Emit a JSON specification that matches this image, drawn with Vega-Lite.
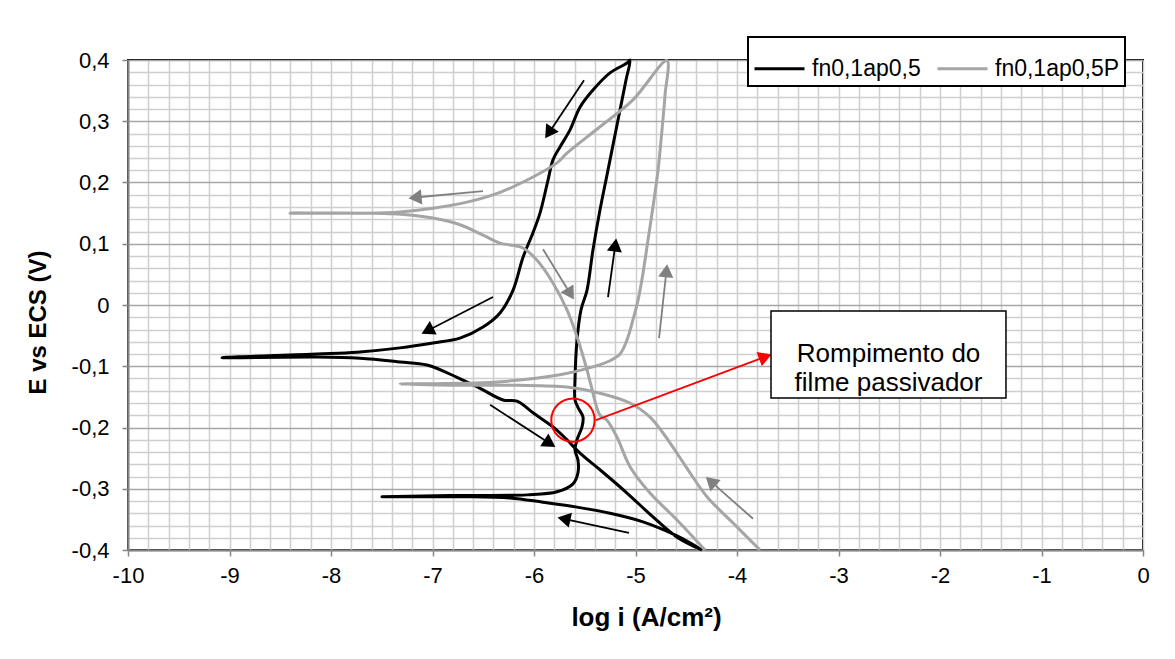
{
  "$schema": "https://vega.github.io/schema/vega-lite/v6.json",
  "width": 1015,
  "height": 490,
  "autosize": {"type": "none"},
  "padding": {"left": 128, "top": 60, "right": 32, "bottom": 109},
  "background": "white",
  "config": {
    "font": "Liberation Sans",
    "view": {"stroke": "black", "strokeWidth": 2},
    "legend": {"strokeWidth": 2}
  },
  "datasets": {
    "curves": [
      {"s":"fn0,1ap0,5","i":1,"x":-4.345,"y":-0.4},
      {"s":"fn0,1ap0,5","i":2,"x":-4.591,"y":-0.377},
      {"s":"fn0,1ap0,5","i":3,"x":-4.926,"y":-0.354},
      {"s":"fn0,1ap0,5","i":4,"x":-5.251,"y":-0.34},
      {"s":"fn0,1ap0,5","i":5,"x":-5.576,"y":-0.33},
      {"s":"fn0,1ap0,5","i":6,"x":-5.911,"y":-0.322},
      {"s":"fn0,1ap0,5","i":7,"x":-6.236,"y":-0.315},
      {"s":"fn0,1ap0,5","i":8,"x":-6.729,"y":-0.313},
      {"s":"fn0,1ap0,5","i":9,"x":-7.498,"y":-0.313},
      {"s":"fn0,1ap0,5","i":10,"x":-6.828,"y":-0.311},
      {"s":"fn0,1ap0,5","i":11,"x":-6.069,"y":-0.31},
      {"s":"fn0,1ap0,5","i":12,"x":-5.773,"y":-0.305},
      {"s":"fn0,1ap0,5","i":13,"x":-5.616,"y":-0.292},
      {"s":"fn0,1ap0,5","i":14,"x":-5.567,"y":-0.274},
      {"s":"fn0,1ap0,5","i":15,"x":-5.567,"y":-0.253},
      {"s":"fn0,1ap0,5","i":16,"x":-5.596,"y":-0.237},
      {"s":"fn0,1ap0,5","i":17,"x":-5.576,"y":-0.22},
      {"s":"fn0,1ap0,5","i":18,"x":-5.527,"y":-0.199},
      {"s":"fn0,1ap0,5","i":19,"x":-5.517,"y":-0.183},
      {"s":"fn0,1ap0,5","i":20,"x":-5.567,"y":-0.167},
      {"s":"fn0,1ap0,5","i":21,"x":-5.596,"y":-0.155},
      {"s":"fn0,1ap0,5","i":22,"x":-5.596,"y":-0.122},
      {"s":"fn0,1ap0,5","i":23,"x":-5.576,"y":-0.057},
      {"s":"fn0,1ap0,5","i":24,"x":-5.537,"y":-0.008},
      {"s":"fn0,1ap0,5","i":25,"x":-5.478,"y":0.024},
      {"s":"fn0,1ap0,5","i":26,"x":-5.419,"y":0.09},
      {"s":"fn0,1ap0,5","i":27,"x":-5.35,"y":0.155},
      {"s":"fn0,1ap0,5","i":28,"x":-5.281,"y":0.212},
      {"s":"fn0,1ap0,5","i":29,"x":-5.222,"y":0.261},
      {"s":"fn0,1ap0,5","i":30,"x":-5.153,"y":0.318},
      {"s":"fn0,1ap0,5","i":31,"x":-5.094,"y":0.367},
      {"s":"fn0,1ap0,5","i":32,"x":-5.054,"y":0.4},
      {"s":"fn0,1ap0,5","i":33,"x":-5.084,"y":0.395},
      {"s":"fn0,1ap0,5","i":34,"x":-5.251,"y":0.379},
      {"s":"fn0,1ap0,5","i":35,"x":-5.419,"y":0.351},
      {"s":"fn0,1ap0,5","i":36,"x":-5.547,"y":0.323},
      {"s":"fn0,1ap0,5","i":37,"x":-5.645,"y":0.286},
      {"s":"fn0,1ap0,5","i":38,"x":-5.744,"y":0.258},
      {"s":"fn0,1ap0,5","i":39,"x":-5.813,"y":0.237},
      {"s":"fn0,1ap0,5","i":40,"x":-5.862,"y":0.204},
      {"s":"fn0,1ap0,5","i":41,"x":-5.941,"y":0.15},
      {"s":"fn0,1ap0,5","i":42,"x":-6.01,"y":0.118},
      {"s":"fn0,1ap0,5","i":43,"x":-6.108,"y":0.078},
      {"s":"fn0,1ap0,5","i":44,"x":-6.207,"y":0.024},
      {"s":"fn0,1ap0,5","i":45,"x":-6.335,"y":-0.013},
      {"s":"fn0,1ap0,5","i":46,"x":-6.502,"y":-0.036},
      {"s":"fn0,1ap0,5","i":47,"x":-6.729,"y":-0.054},
      {"s":"fn0,1ap0,5","i":48,"x":-6.995,"y":-0.062},
      {"s":"fn0,1ap0,5","i":49,"x":-7.32,"y":-0.07},
      {"s":"fn0,1ap0,5","i":50,"x":-7.744,"y":-0.077},
      {"s":"fn0,1ap0,5","i":51,"x":-8.138,"y":-0.08},
      {"s":"fn0,1ap0,5","i":52,"x":-9.074,"y":-0.086},
      {"s":"fn0,1ap0,5","i":53,"x":-8.138,"y":-0.085},
      {"s":"fn0,1ap0,5","i":54,"x":-7.714,"y":-0.087},
      {"s":"fn0,1ap0,5","i":55,"x":-7.32,"y":-0.093},
      {"s":"fn0,1ap0,5","i":56,"x":-7.054,"y":-0.098},
      {"s":"fn0,1ap0,5","i":57,"x":-6.759,"y":-0.118},
      {"s":"fn0,1ap0,5","i":58,"x":-6.532,"y":-0.136},
      {"s":"fn0,1ap0,5","i":59,"x":-6.305,"y":-0.155},
      {"s":"fn0,1ap0,5","i":60,"x":-6.167,"y":-0.157},
      {"s":"fn0,1ap0,5","i":61,"x":-6.01,"y":-0.176},
      {"s":"fn0,1ap0,5","i":62,"x":-5.813,"y":-0.199},
      {"s":"fn0,1ap0,5","i":63,"x":-5.675,"y":-0.22},
      {"s":"fn0,1ap0,5","i":64,"x":-5.547,"y":-0.242},
      {"s":"fn0,1ap0,5","i":65,"x":-5.35,"y":-0.269},
      {"s":"fn0,1ap0,5","i":66,"x":-5.084,"y":-0.307},
      {"s":"fn0,1ap0,5","i":67,"x":-4.828,"y":-0.346},
      {"s":"fn0,1ap0,5","i":68,"x":-4.591,"y":-0.379},
      {"s":"fn0,1ap0,5","i":69,"x":-4.345,"y":-0.4},
      {"s":"fn0,1ap0,5P","i":1,"x":-3.773,"y":-0.4},
      {"s":"fn0,1ap0,5P","i":2,"x":-4.039,"y":-0.356},
      {"s":"fn0,1ap0,5P","i":3,"x":-4.296,"y":-0.313},
      {"s":"fn0,1ap0,5P","i":4,"x":-4.463,"y":-0.274},
      {"s":"fn0,1ap0,5P","i":5,"x":-4.591,"y":-0.242},
      {"s":"fn0,1ap0,5P","i":6,"x":-4.729,"y":-0.209},
      {"s":"fn0,1ap0,5P","i":7,"x":-4.857,"y":-0.183},
      {"s":"fn0,1ap0,5P","i":8,"x":-5.054,"y":-0.16},
      {"s":"fn0,1ap0,5P","i":9,"x":-5.35,"y":-0.144},
      {"s":"fn0,1ap0,5P","i":10,"x":-5.675,"y":-0.134},
      {"s":"fn0,1ap0,5P","i":11,"x":-6.167,"y":-0.131},
      {"s":"fn0,1ap0,5P","i":12,"x":-6.828,"y":-0.131},
      {"s":"fn0,1ap0,5P","i":13,"x":-7.32,"y":-0.129},
      {"s":"fn0,1ap0,5P","i":14,"x":-6.404,"y":-0.126},
      {"s":"fn0,1ap0,5P","i":15,"x":-5.744,"y":-0.114},
      {"s":"fn0,1ap0,5P","i":16,"x":-5.419,"y":-0.101},
      {"s":"fn0,1ap0,5P","i":17,"x":-5.251,"y":-0.091},
      {"s":"fn0,1ap0,5P","i":18,"x":-5.153,"y":-0.08},
      {"s":"fn0,1ap0,5P","i":19,"x":-5.084,"y":-0.057},
      {"s":"fn0,1ap0,5P","i":20,"x":-5.025,"y":-0.024},
      {"s":"fn0,1ap0,5P","i":21,"x":-4.975,"y":0.008},
      {"s":"fn0,1ap0,5P","i":22,"x":-4.926,"y":0.052},
      {"s":"fn0,1ap0,5P","i":23,"x":-4.877,"y":0.106},
      {"s":"fn0,1ap0,5P","i":24,"x":-4.828,"y":0.16},
      {"s":"fn0,1ap0,5P","i":25,"x":-4.778,"y":0.22},
      {"s":"fn0,1ap0,5P","i":26,"x":-4.739,"y":0.286},
      {"s":"fn0,1ap0,5P","i":27,"x":-4.709,"y":0.343},
      {"s":"fn0,1ap0,5P","i":28,"x":-4.69,"y":0.399},
      {"s":"fn0,1ap0,5P","i":29,"x":-5.025,"y":0.335},
      {"s":"fn0,1ap0,5P","i":30,"x":-5.35,"y":0.291},
      {"s":"fn0,1ap0,5P","i":31,"x":-5.675,"y":0.248},
      {"s":"fn0,1ap0,5P","i":32,"x":-5.773,"y":0.232},
      {"s":"fn0,1ap0,5P","i":33,"x":-6.01,"y":0.209},
      {"s":"fn0,1ap0,5P","i":34,"x":-6.335,"y":0.184},
      {"s":"fn0,1ap0,5P","i":35,"x":-6.66,"y":0.168},
      {"s":"fn0,1ap0,5P","i":36,"x":-6.995,"y":0.158},
      {"s":"fn0,1ap0,5P","i":37,"x":-7.32,"y":0.152},
      {"s":"fn0,1ap0,5P","i":38,"x":-7.645,"y":0.15},
      {"s":"fn0,1ap0,5P","i":39,"x":-8.404,"y":0.15},
      {"s":"fn0,1ap0,5P","i":40,"x":-7.389,"y":0.149},
      {"s":"fn0,1ap0,5P","i":41,"x":-6.995,"y":0.142},
      {"s":"fn0,1ap0,5P","i":42,"x":-6.729,"y":0.131},
      {"s":"fn0,1ap0,5P","i":43,"x":-6.502,"y":0.114},
      {"s":"fn0,1ap0,5P","i":44,"x":-6.335,"y":0.101},
      {"s":"fn0,1ap0,5P","i":45,"x":-6.236,"y":0.098},
      {"s":"fn0,1ap0,5P","i":46,"x":-6.108,"y":0.093},
      {"s":"fn0,1ap0,5P","i":47,"x":-5.97,"y":0.073},
      {"s":"fn0,1ap0,5P","i":48,"x":-5.813,"y":0.036},
      {"s":"fn0,1ap0,5P","i":49,"x":-5.675,"y":-0.008},
      {"s":"fn0,1ap0,5P","i":50,"x":-5.576,"y":-0.052},
      {"s":"fn0,1ap0,5P","i":51,"x":-5.478,"y":-0.106},
      {"s":"fn0,1ap0,5P","i":52,"x":-5.438,"y":-0.131},
      {"s":"fn0,1ap0,5P","i":53,"x":-5.35,"y":-0.18},
      {"s":"fn0,1ap0,5P","i":54,"x":-5.281,"y":-0.188},
      {"s":"fn0,1ap0,5P","i":55,"x":-5.182,"y":-0.216},
      {"s":"fn0,1ap0,5P","i":56,"x":-5.054,"y":-0.264},
      {"s":"fn0,1ap0,5P","i":57,"x":-4.857,"y":-0.307},
      {"s":"fn0,1ap0,5P","i":58,"x":-4.591,"y":-0.351},
      {"s":"fn0,1ap0,5P","i":59,"x":-4.315,"y":-0.4}
    ],
    "arrows": [
      {"c":"k","x":-5.507,"y":0.367,"x2":-5.854,"y2":0.281,"a":213.7},
      {"c":"g","x":-6.502,"y":0.186,"x2":-7.172,"y2":0.1755,"a":264.5},
      {"c":"g","x":-5.911,"y":0.091,"x2":-5.641,"y2":0.018,"a":148.5},
      {"c":"k","x":-5.271,"y":0.013,"x2":-5.199,"y2":0.098,"a":8.0},
      {"c":"g","x":-4.768,"y":-0.054,"x2":-4.695,"y2":0.056,"a":6.3},
      {"c":"k","x":-6.404,"y":0.013,"x2":-7.05,"y2":-0.042,"a":242.8},
      {"c":"k","x":-6.433,"y":-0.163,"x2":-5.844,"y2":-0.226,"a":122.6},
      {"c":"k","x":-5.064,"y":-0.372,"x2":-5.705,"y2":-0.349,"a":282.1},
      {"c":"g","x":-3.842,"y":-0.349,"x2":-4.259,"y2":-0.288,"a":311.7},
      {"c":"r","x":-5.389,"y":-0.188,"x2":-3.721,"y2":-0.0844,"a":69.5}
    ],
    "circle": [{"x":-5.616,"y":-0.188}],
    "box": [{"x":-3.665,"x2":-1.35,"y":-0.0098,"y2":-0.152}],
    "note": [{"x":-2.507,"y":-0.0808,"t":"Rompimento do\nfilme passivador"}]
  },
  "layer": [
    {
      "data": {"name": "curves"},
      "mark": {"type": "line", "strokeWidth": 3, "strokeJoin": "round", "interpolate": "catmull-rom"},
      "encoding": {
        "x": {
          "field": "x", "type": "quantitative",
          "scale": {"domain": [-10, 0], "nice": false, "zero": false},
          "axis": {
            "title": "log i (A/cm²)",
            "titleFont": "Liberation Sans", "titleFontSize": 26, "titleFontWeight": "bold", "titleColor": "black",
            "titleX": 518, "titleY": 67, "titleBaseline": "middle", "titleAlign": "center",
            "tickCount": 100,
            "values": [-10,-9.8,-9.6,-9.4,-9.2,-9,-8.8,-8.6,-8.4,-8.2,-8,-7.8,-7.6,-7.4,-7.2,-7,-6.8,-6.6,-6.4,-6.2,-6,-5.8,-5.6,-5.4,-5.2,-5,-4.8,-4.6,-4.4,-4.2,-4,-3.8,-3.6,-3.4,-3.2,-3,-2.8,-2.6,-2.4,-2.2,-2,-1.8,-1.6,-1.4,-1.2,-1,-0.8,-0.6,-0.4,-0.2,0],
            "labelExpr": "abs(datum.value-round(datum.value))<0.001 ? toString(round(datum.value)) : ''",
            "labelFont": "Liberation Sans", "labelFontSize": 22, "labelColor": "black",
            "labelPadding": 9, "labelOverlap": false, "labelFlush": false,
            "tickSize": 6, "tickColor": "#868686", "tickWidth": 1.5,
            "tickOpacity": {"condition": {"test": "abs(datum.value-round(datum.value))<0.001", "value": 1}, "value": 0},
            "domainColor": "#868686", "domainWidth": 2,
            "grid": true, "gridColor": "#CFCFCF", "gridWidth": 1.5
          }
        },
        "y": {
          "field": "y", "type": "quantitative",
          "scale": {"domain": [-0.4, 0.4], "nice": false, "zero": false},
          "axis": {
            "title": "E vs ECS (V)",
            "titleFont": "Liberation Sans", "titleFontSize": 24, "titleFontWeight": "bold", "titleColor": "black",
            "titleX": -90, "titleY": 262, "titleBaseline": "middle", "titleAlign": "center", "titleAngle": -90,
            "tickCount": 100,
            "values": [-0.4,-0.38,-0.36,-0.34,-0.32,-0.3,-0.28,-0.26,-0.24,-0.22,-0.2,-0.18,-0.16,-0.14,-0.12,-0.1,-0.08,-0.06,-0.04,-0.02,0,0.02,0.04,0.06,0.08,0.1,0.12,0.14,0.16,0.18,0.2,0.22,0.24,0.26,0.28,0.3,0.32,0.34,0.36,0.38,0.4],
            "labelExpr": "abs(datum.value*10-round(datum.value*10))<0.001 ? replace(toString(round(datum.value*10)/10), '.', ',') : ''",
            "labelFont": "Liberation Sans", "labelFontSize": 22, "labelColor": "black",
            "labelPadding": 13, "labelOverlap": false, "labelFlush": false,
            "tickSize": 6, "tickColor": "#868686", "tickWidth": 1.5,
            "tickOpacity": {"condition": {"test": "abs(datum.value*10-round(datum.value*10))<0.001", "value": 1}, "value": 0},
            "domainColor": "#868686", "domainWidth": 2,
            "grid": true, "gridWidth": 1.5,
            "gridColor": {"condition": {"test": "abs(datum.value*10-round(datum.value*10))<0.001", "value": "#A6A6A6"}, "value": "#CFCFCF"}
          }
        },
        "color": {
          "field": "s", "type": "nominal",
          "scale": {"domain": ["fn0,1ap0,5", "fn0,1ap0,5P"], "range": ["#000000", "#A5A5A5"]},
          "legend": {
            "orient": "none", "legendX": 620, "legendY": -23, "direction": "horizontal",
            "title": null, "symbolType": "stroke", "symbolSize": 2500, "symbolStrokeWidth": 3,
            "labelFont": "Liberation Sans", "labelFontSize": 23, "labelColor": "black",
            "strokeColor": "black", "fillColor": "white", "padding": 5, "columnPadding": 10,
            "labelOffset": 6, "zindex": 2
          }
        },
        "order": {"field": "i", "type": "quantitative"}
      }
    },
    {
      "data": {"name": "arrows"},
      "mark": {"type": "rule", "strokeWidth": 1.8},
      "encoding": {
        "x": {"field": "x", "type": "quantitative"},
        "y": {"field": "y", "type": "quantitative"},
        "x2": {"field": "x2"},
        "y2": {"field": "y2"},
        "color": {"condition": [{"test": "datum.c=='g'", "value": "#808080"}, {"test": "datum.c=='r'", "value": "#FF0000"}], "value": "#000000"}
      }
    },
    {
      "data": {"name": "arrows"},
      "mark": {"type": "point", "shape": "triangle-up", "filled": true, "opacity": 1, "size": 230},
      "encoding": {
        "x": {"field": "x2", "type": "quantitative"},
        "y": {"field": "y2", "type": "quantitative"},
        "angle": {"field": "a", "type": "quantitative", "scale": null},
        "color": {"condition": [{"test": "datum.c=='g'", "value": "#808080"}, {"test": "datum.c=='r'", "value": "#FF0000"}], "value": "#000000"}
      }
    },
    {
      "data": {"name": "circle"},
      "mark": {"type": "point", "shape": "circle", "filled": false, "opacity": 1, "size": 1880, "stroke": "#FF0000", "strokeWidth": 2},
      "encoding": {
        "x": {"field": "x", "type": "quantitative"},
        "y": {"field": "y", "type": "quantitative"}
      }
    },
    {
      "data": {"name": "box"},
      "mark": {"type": "rect", "fill": "white", "stroke": "black", "strokeWidth": 1.5},
      "encoding": {
        "x": {"field": "x", "type": "quantitative"},
        "x2": {"field": "x2"},
        "y": {"field": "y", "type": "quantitative"},
        "y2": {"field": "y2"}
      }
    },
    {
      "data": {"name": "note"},
      "mark": {"type": "text", "font": "Liberation Sans", "fontSize": 26, "lineHeight": 29, "lineBreak": "\n", "align": "center", "baseline": "middle", "color": "black"},
      "encoding": {
        "x": {"field": "x", "type": "quantitative"},
        "y": {"field": "y", "type": "quantitative"},
        "text": {"field": "t"}
      }
    }
  ]
}
